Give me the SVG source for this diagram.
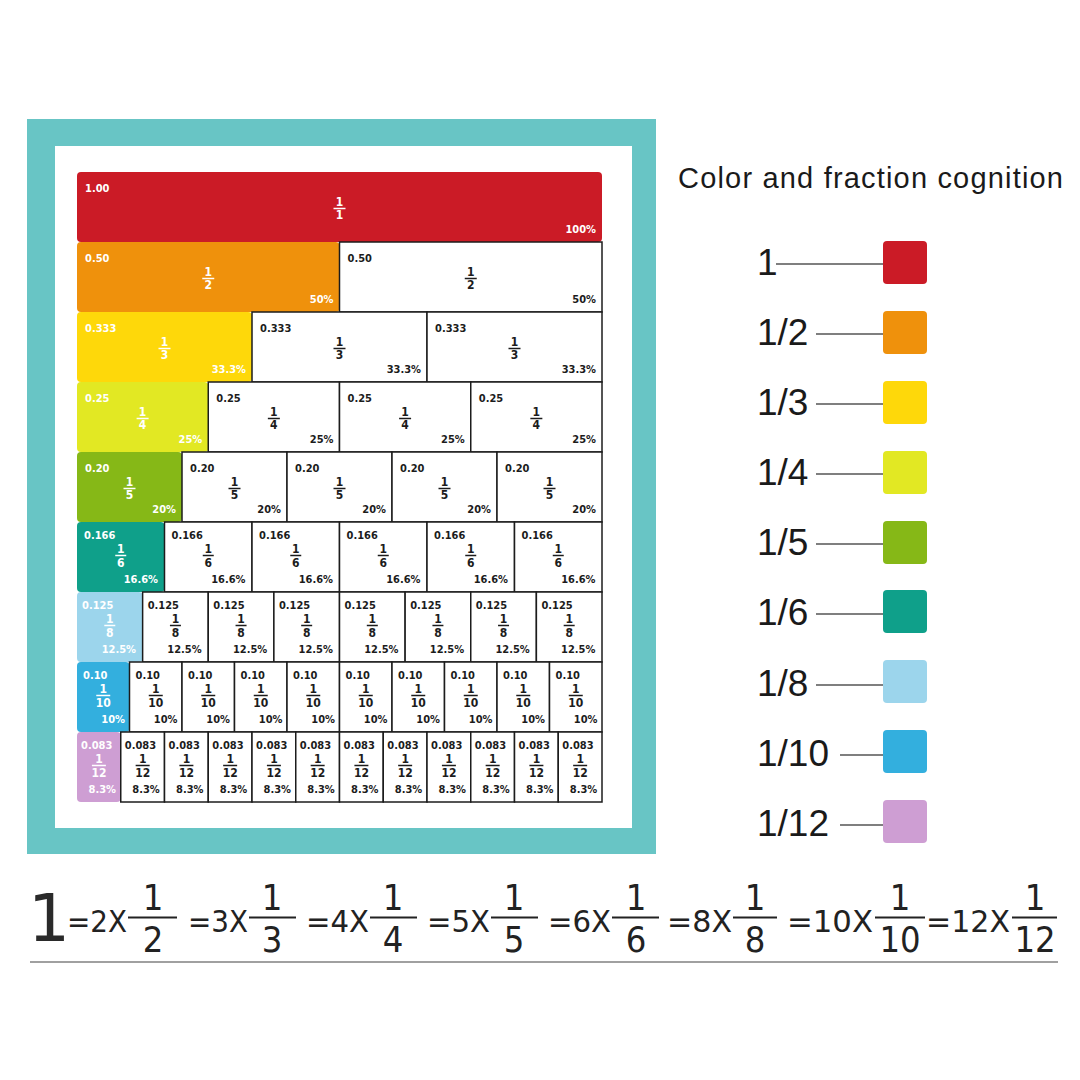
<svg xmlns="http://www.w3.org/2000/svg" width="1080" height="1080" viewBox="0 0 1080 1080">
<style>
.wc{fill:#fff;stroke:#1c1c1c;stroke-width:1.5}
.t{font-family:"DejaVu Sans Condensed","DejaVu Sans",sans-serif;font-weight:bold;font-size:11px;fill:#1c1c1c}
.n{text-anchor:middle;font-size:12px}
.p{text-anchor:end}
.w{fill:#fff}
.fb{stroke:#1c1c1c;stroke-width:1.5}
.fw{stroke:#fff;stroke-width:1.5}
.lg{font-family:"Liberation Sans",Arial,sans-serif;font-size:37px;fill:#1a1a1a}
.ll{stroke:#555;stroke-width:1.4}
.eq{font-family:"DejaVu Sans Condensed","DejaVu Sans",sans-serif;font-size:31px;fill:#222}
.eqf{font-family:"DejaVu Sans Condensed","DejaVu Sans",sans-serif;font-size:36px;fill:#222;text-anchor:middle}
.eb{stroke:#222;stroke-width:2}
</style>
<rect x="27" y="119" width="629" height="735" fill="#68C5C5"/>
<rect x="55" y="146" width="577" height="682" fill="#fff"/>

<g id="row-1">
<g transform="translate(77,172)"><rect width="525" height="70" rx="4" fill="#CB1B26"/><text class="t w" x="8" y="20">1.00</text><text class="t n w" x="262.5" y="34">1</text><path class="fw" d="M256.5 36.5h12"/><text class="t n w" x="262.5" y="47">1</text><text class="t p w" x="519" y="61">100%</text></g>
</g>

<g id="row-2">
<g transform="translate(77,242)"><rect width="262.5" height="70" rx="4" fill="#EF910C"/><text class="t w" x="8" y="20">0.50</text><text class="t n w" x="131.25" y="34">1</text><path class="fw" d="M125.25 36.5h12"/><text class="t n w" x="131.25" y="47">2</text><text class="t p w" x="256.5" y="61">50%</text></g>
<g transform="translate(339.5,242)"><rect class="wc" width="262.5" height="70"/><text class="t" x="8" y="20">0.50</text><text class="t n" x="131.25" y="34">1</text><path class="fb" d="M125.25 36.5h12"/><text class="t n" x="131.25" y="47">2</text><text class="t p" x="256.5" y="61">50%</text></g>
</g>

<g id="row-3">
<g transform="translate(77,312)"><rect width="175" height="70" rx="4" fill="#FED80A"/><text class="t w" x="8" y="20">0.333</text><text class="t n w" x="87.5" y="34">1</text><path class="fw" d="M81.5 36.5h12"/><text class="t n w" x="87.5" y="47">3</text><text class="t p w" x="169" y="61">33.3%</text></g>
<g transform="translate(252,312)"><rect class="wc" width="175" height="70"/><text class="t" x="8" y="20">0.333</text><text class="t n" x="87.5" y="34">1</text><path class="fb" d="M81.5 36.5h12"/><text class="t n" x="87.5" y="47">3</text><text class="t p" x="169" y="61">33.3%</text></g>
<g transform="translate(427,312)"><rect class="wc" width="175" height="70"/><text class="t" x="8" y="20">0.333</text><text class="t n" x="87.5" y="34">1</text><path class="fb" d="M81.5 36.5h12"/><text class="t n" x="87.5" y="47">3</text><text class="t p" x="169" y="61">33.3%</text></g>
</g>

<g id="row-4">
<g transform="translate(77,382)"><rect width="131.25" height="70" rx="4" fill="#E2E823"/><text class="t w" x="8" y="20">0.25</text><text class="t n w" x="65.6" y="34">1</text><path class="fw" d="M59.6 36.5h12"/><text class="t n w" x="65.6" y="47">4</text><text class="t p w" x="125.25" y="61">25%</text></g>
<g transform="translate(208.25,382)"><rect class="wc" width="131.25" height="70"/><text class="t" x="8" y="20">0.25</text><text class="t n" x="65.6" y="34">1</text><path class="fb" d="M59.6 36.5h12"/><text class="t n" x="65.6" y="47">4</text><text class="t p" x="125.25" y="61">25%</text></g>
<g transform="translate(339.5,382)"><rect class="wc" width="131.25" height="70"/><text class="t" x="8" y="20">0.25</text><text class="t n" x="65.6" y="34">1</text><path class="fb" d="M59.6 36.5h12"/><text class="t n" x="65.6" y="47">4</text><text class="t p" x="125.25" y="61">25%</text></g>
<g transform="translate(470.75,382)"><rect class="wc" width="131.25" height="70"/><text class="t" x="8" y="20">0.25</text><text class="t n" x="65.6" y="34">1</text><path class="fb" d="M59.6 36.5h12"/><text class="t n" x="65.6" y="47">4</text><text class="t p" x="125.25" y="61">25%</text></g>
</g>

<g id="row-5">
<g transform="translate(77,452)"><rect width="105" height="70" rx="4" fill="#86B817"/><text class="t w" x="8" y="20">0.20</text><text class="t n w" x="52.5" y="34">1</text><path class="fw" d="M46.5 36.5h12"/><text class="t n w" x="52.5" y="47">5</text><text class="t p w" x="99" y="61">20%</text></g>
<g transform="translate(182,452)"><rect class="wc" width="105" height="70"/><text class="t" x="8" y="20">0.20</text><text class="t n" x="52.5" y="34">1</text><path class="fb" d="M46.5 36.5h12"/><text class="t n" x="52.5" y="47">5</text><text class="t p" x="99" y="61">20%</text></g>
<g transform="translate(287,452)"><rect class="wc" width="105" height="70"/><text class="t" x="8" y="20">0.20</text><text class="t n" x="52.5" y="34">1</text><path class="fb" d="M46.5 36.5h12"/><text class="t n" x="52.5" y="47">5</text><text class="t p" x="99" y="61">20%</text></g>
<g transform="translate(392,452)"><rect class="wc" width="105" height="70"/><text class="t" x="8" y="20">0.20</text><text class="t n" x="52.5" y="34">1</text><path class="fb" d="M46.5 36.5h12"/><text class="t n" x="52.5" y="47">5</text><text class="t p" x="99" y="61">20%</text></g>
<g transform="translate(497,452)"><rect class="wc" width="105" height="70"/><text class="t" x="8" y="20">0.20</text><text class="t n" x="52.5" y="34">1</text><path class="fb" d="M46.5 36.5h12"/><text class="t n" x="52.5" y="47">5</text><text class="t p" x="99" y="61">20%</text></g>
</g>

<g id="row-6">
<g transform="translate(77,522)"><rect width="87.5" height="70" rx="4" fill="#0FA08A"/><text class="t w" x="7" y="17">0.166</text><text class="t n w" x="43.75" y="31">1</text><path class="fw" d="M38.25 33.5h11"/><text class="t n w" x="43.75" y="45">6</text><text class="t p w" x="81" y="61">16.6%</text></g>
<g transform="translate(164.5,522)"><rect class="wc" width="87.5" height="70"/><text class="t" x="7" y="17">0.166</text><text class="t n" x="43.75" y="31">1</text><path class="fb" d="M38.25 33.5h11"/><text class="t n" x="43.75" y="45">6</text><text class="t p" x="81" y="61">16.6%</text></g>
<g transform="translate(252,522)"><rect class="wc" width="87.5" height="70"/><text class="t" x="7" y="17">0.166</text><text class="t n" x="43.75" y="31">1</text><path class="fb" d="M38.25 33.5h11"/><text class="t n" x="43.75" y="45">6</text><text class="t p" x="81" y="61">16.6%</text></g>
<g transform="translate(339.5,522)"><rect class="wc" width="87.5" height="70"/><text class="t" x="7" y="17">0.166</text><text class="t n" x="43.75" y="31">1</text><path class="fb" d="M38.25 33.5h11"/><text class="t n" x="43.75" y="45">6</text><text class="t p" x="81" y="61">16.6%</text></g>
<g transform="translate(427,522)"><rect class="wc" width="87.5" height="70"/><text class="t" x="7" y="17">0.166</text><text class="t n" x="43.75" y="31">1</text><path class="fb" d="M38.25 33.5h11"/><text class="t n" x="43.75" y="45">6</text><text class="t p" x="81" y="61">16.6%</text></g>
<g transform="translate(514.5,522)"><rect class="wc" width="87.5" height="70"/><text class="t" x="7" y="17">0.166</text><text class="t n" x="43.75" y="31">1</text><path class="fb" d="M38.25 33.5h11"/><text class="t n" x="43.75" y="45">6</text><text class="t p" x="81" y="61">16.6%</text></g>
</g>

<g id="row-8ths">
<g transform="translate(77,592)"><rect width="65.625" height="70" rx="4" fill="#9CD5EC"/><text class="t w" x="5" y="17">0.125</text><text class="t n w" x="32.8" y="31">1</text><path class="fw" d="M27.3 33.5h11"/><text class="t n w" x="32.8" y="45">8</text><text class="t p w" x="59" y="61">12.5%</text></g>
<g transform="translate(142.625,592)"><rect class="wc" width="65.625" height="70"/><text class="t" x="5" y="17">0.125</text><text class="t n" x="32.8" y="31">1</text><path class="fb" d="M27.3 33.5h11"/><text class="t n" x="32.8" y="45">8</text><text class="t p" x="59" y="61">12.5%</text></g>
<g transform="translate(208.25,592)"><rect class="wc" width="65.625" height="70"/><text class="t" x="5" y="17">0.125</text><text class="t n" x="32.8" y="31">1</text><path class="fb" d="M27.3 33.5h11"/><text class="t n" x="32.8" y="45">8</text><text class="t p" x="59" y="61">12.5%</text></g>
<g transform="translate(273.875,592)"><rect class="wc" width="65.625" height="70"/><text class="t" x="5" y="17">0.125</text><text class="t n" x="32.8" y="31">1</text><path class="fb" d="M27.3 33.5h11"/><text class="t n" x="32.8" y="45">8</text><text class="t p" x="59" y="61">12.5%</text></g>
<g transform="translate(339.5,592)"><rect class="wc" width="65.625" height="70"/><text class="t" x="5" y="17">0.125</text><text class="t n" x="32.8" y="31">1</text><path class="fb" d="M27.3 33.5h11"/><text class="t n" x="32.8" y="45">8</text><text class="t p" x="59" y="61">12.5%</text></g>
<g transform="translate(405.125,592)"><rect class="wc" width="65.625" height="70"/><text class="t" x="5" y="17">0.125</text><text class="t n" x="32.8" y="31">1</text><path class="fb" d="M27.3 33.5h11"/><text class="t n" x="32.8" y="45">8</text><text class="t p" x="59" y="61">12.5%</text></g>
<g transform="translate(470.75,592)"><rect class="wc" width="65.625" height="70"/><text class="t" x="5" y="17">0.125</text><text class="t n" x="32.8" y="31">1</text><path class="fb" d="M27.3 33.5h11"/><text class="t n" x="32.8" y="45">8</text><text class="t p" x="59" y="61">12.5%</text></g>
<g transform="translate(536.375,592)"><rect class="wc" width="65.625" height="70"/><text class="t" x="5" y="17">0.125</text><text class="t n" x="32.8" y="31">1</text><path class="fb" d="M27.3 33.5h11"/><text class="t n" x="32.8" y="45">8</text><text class="t p" x="59" y="61">12.5%</text></g>
</g>

<g id="row-10ths">
<g transform="translate(77,662)"><rect width="52.5" height="70" rx="4" fill="#33AFDE"/><text class="t w" x="6" y="17">0.10</text><text class="t n w" x="26.25" y="31">1</text><path class="fw" d="M19.25 33.5h14"/><text class="t n w" x="26.25" y="45">10</text><text class="t p w" x="48" y="61">10%</text></g>
<g transform="translate(129.5,662)"><rect class="wc" width="52.5" height="70"/><text class="t" x="6" y="17">0.10</text><text class="t n" x="26.25" y="31">1</text><path class="fb" d="M19.25 33.5h14"/><text class="t n" x="26.25" y="45">10</text><text class="t p" x="48" y="61">10%</text></g>
<g transform="translate(182,662)"><rect class="wc" width="52.5" height="70"/><text class="t" x="6" y="17">0.10</text><text class="t n" x="26.25" y="31">1</text><path class="fb" d="M19.25 33.5h14"/><text class="t n" x="26.25" y="45">10</text><text class="t p" x="48" y="61">10%</text></g>
<g transform="translate(234.5,662)"><rect class="wc" width="52.5" height="70"/><text class="t" x="6" y="17">0.10</text><text class="t n" x="26.25" y="31">1</text><path class="fb" d="M19.25 33.5h14"/><text class="t n" x="26.25" y="45">10</text><text class="t p" x="48" y="61">10%</text></g>
<g transform="translate(287,662)"><rect class="wc" width="52.5" height="70"/><text class="t" x="6" y="17">0.10</text><text class="t n" x="26.25" y="31">1</text><path class="fb" d="M19.25 33.5h14"/><text class="t n" x="26.25" y="45">10</text><text class="t p" x="48" y="61">10%</text></g>
<g transform="translate(339.5,662)"><rect class="wc" width="52.5" height="70"/><text class="t" x="6" y="17">0.10</text><text class="t n" x="26.25" y="31">1</text><path class="fb" d="M19.25 33.5h14"/><text class="t n" x="26.25" y="45">10</text><text class="t p" x="48" y="61">10%</text></g>
<g transform="translate(392,662)"><rect class="wc" width="52.5" height="70"/><text class="t" x="6" y="17">0.10</text><text class="t n" x="26.25" y="31">1</text><path class="fb" d="M19.25 33.5h14"/><text class="t n" x="26.25" y="45">10</text><text class="t p" x="48" y="61">10%</text></g>
<g transform="translate(444.5,662)"><rect class="wc" width="52.5" height="70"/><text class="t" x="6" y="17">0.10</text><text class="t n" x="26.25" y="31">1</text><path class="fb" d="M19.25 33.5h14"/><text class="t n" x="26.25" y="45">10</text><text class="t p" x="48" y="61">10%</text></g>
<g transform="translate(497,662)"><rect class="wc" width="52.5" height="70"/><text class="t" x="6" y="17">0.10</text><text class="t n" x="26.25" y="31">1</text><path class="fb" d="M19.25 33.5h14"/><text class="t n" x="26.25" y="45">10</text><text class="t p" x="48" y="61">10%</text></g>
<g transform="translate(549.5,662)"><rect class="wc" width="52.5" height="70"/><text class="t" x="6" y="17">0.10</text><text class="t n" x="26.25" y="31">1</text><path class="fb" d="M19.25 33.5h14"/><text class="t n" x="26.25" y="45">10</text><text class="t p" x="48" y="61">10%</text></g>
</g>

<g id="row-12ths">
<g transform="translate(77,732)"><rect width="43.75" height="70" rx="4" fill="#CE9ED3"/><text class="t w" x="4" y="17">0.083</text><text class="t n w" x="21.9" y="31">1</text><path class="fw" d="M14.9 33.5h14"/><text class="t n w" x="21.9" y="45">12</text><text class="t p w" x="39" y="61">8.3%</text></g>
<g transform="translate(120.75,732)"><rect class="wc" width="43.75" height="70"/><text class="t" x="4" y="17">0.083</text><text class="t n" x="21.9" y="31">1</text><path class="fb" d="M14.9 33.5h14"/><text class="t n" x="21.9" y="45">12</text><text class="t p" x="39" y="61">8.3%</text></g>
<g transform="translate(164.5,732)"><rect class="wc" width="43.75" height="70"/><text class="t" x="4" y="17">0.083</text><text class="t n" x="21.9" y="31">1</text><path class="fb" d="M14.9 33.5h14"/><text class="t n" x="21.9" y="45">12</text><text class="t p" x="39" y="61">8.3%</text></g>
<g transform="translate(208.25,732)"><rect class="wc" width="43.75" height="70"/><text class="t" x="4" y="17">0.083</text><text class="t n" x="21.9" y="31">1</text><path class="fb" d="M14.9 33.5h14"/><text class="t n" x="21.9" y="45">12</text><text class="t p" x="39" y="61">8.3%</text></g>
<g transform="translate(252,732)"><rect class="wc" width="43.75" height="70"/><text class="t" x="4" y="17">0.083</text><text class="t n" x="21.9" y="31">1</text><path class="fb" d="M14.9 33.5h14"/><text class="t n" x="21.9" y="45">12</text><text class="t p" x="39" y="61">8.3%</text></g>
<g transform="translate(295.75,732)"><rect class="wc" width="43.75" height="70"/><text class="t" x="4" y="17">0.083</text><text class="t n" x="21.9" y="31">1</text><path class="fb" d="M14.9 33.5h14"/><text class="t n" x="21.9" y="45">12</text><text class="t p" x="39" y="61">8.3%</text></g>
<g transform="translate(339.5,732)"><rect class="wc" width="43.75" height="70"/><text class="t" x="4" y="17">0.083</text><text class="t n" x="21.9" y="31">1</text><path class="fb" d="M14.9 33.5h14"/><text class="t n" x="21.9" y="45">12</text><text class="t p" x="39" y="61">8.3%</text></g>
<g transform="translate(383.25,732)"><rect class="wc" width="43.75" height="70"/><text class="t" x="4" y="17">0.083</text><text class="t n" x="21.9" y="31">1</text><path class="fb" d="M14.9 33.5h14"/><text class="t n" x="21.9" y="45">12</text><text class="t p" x="39" y="61">8.3%</text></g>
<g transform="translate(427,732)"><rect class="wc" width="43.75" height="70"/><text class="t" x="4" y="17">0.083</text><text class="t n" x="21.9" y="31">1</text><path class="fb" d="M14.9 33.5h14"/><text class="t n" x="21.9" y="45">12</text><text class="t p" x="39" y="61">8.3%</text></g>
<g transform="translate(470.75,732)"><rect class="wc" width="43.75" height="70"/><text class="t" x="4" y="17">0.083</text><text class="t n" x="21.9" y="31">1</text><path class="fb" d="M14.9 33.5h14"/><text class="t n" x="21.9" y="45">12</text><text class="t p" x="39" y="61">8.3%</text></g>
<g transform="translate(514.5,732)"><rect class="wc" width="43.75" height="70"/><text class="t" x="4" y="17">0.083</text><text class="t n" x="21.9" y="31">1</text><path class="fb" d="M14.9 33.5h14"/><text class="t n" x="21.9" y="45">12</text><text class="t p" x="39" y="61">8.3%</text></g>
<g transform="translate(558.25,732)"><rect class="wc" width="43.75" height="70"/><text class="t" x="4" y="17">0.083</text><text class="t n" x="21.9" y="31">1</text><path class="fb" d="M14.9 33.5h14"/><text class="t n" x="21.9" y="45">12</text><text class="t p" x="39" y="61">8.3%</text></g>
</g>

<text x="678" y="188" font-family="'Liberation Sans',Arial,sans-serif" font-size="29" fill="#1a1a1a" textLength="385">Color and fraction cognition</text>

<g id="legend-connectors">
<path class="ll" d="M776 264H883"/>
<path class="ll" d="M816 334H883"/>
<path class="ll" d="M816 404H883"/>
<path class="ll" d="M816 474H883"/>
<path class="ll" d="M816 544H883"/>
<path class="ll" d="M816 614H883"/>
<path class="ll" d="M816 685H883"/>
<path class="ll" d="M840 755H883"/>
<path class="ll" d="M840 825H883"/>
</g>
<g id="legend-1"><text class="lg" x="757" y="275">1</text><rect x="883" y="241" width="44" height="43" rx="4" fill="#CB1B26"/></g>
<g id="legend-1-2"><text class="lg" x="757" y="345">1/2</text><rect x="883" y="311" width="44" height="43" rx="4" fill="#EF910C"/></g>
<g id="legend-1-3"><text class="lg" x="757" y="415">1/3</text><rect x="883" y="381" width="44" height="43" rx="4" fill="#FED80A"/></g>
<g id="legend-1-4"><text class="lg" x="757" y="485">1/4</text><rect x="883" y="451" width="44" height="43" rx="4" fill="#E2E823"/></g>
<g id="legend-1-5"><text class="lg" x="757" y="555">1/5</text><rect x="883" y="521" width="44" height="43" rx="4" fill="#86B817"/></g>
<g id="legend-1-6"><text class="lg" x="757" y="625">1/6</text><rect x="883" y="590" width="44" height="43" rx="4" fill="#0FA08A"/></g>
<g id="legend-1-8"><text class="lg" x="757" y="696">1/8</text><rect x="883" y="660" width="44" height="43" rx="4" fill="#9CD5EC"/></g>
<g id="legend-1-10"><text class="lg" x="757" y="766">1/10</text><rect x="883" y="730" width="44" height="43" rx="4" fill="#33AFDE"/></g>
<g id="legend-1-12"><text class="lg" x="757" y="836">1/12</text><rect x="883" y="800" width="44" height="43" rx="4" fill="#CE9ED3"/></g>

<g id="equation">
<text x="28" y="941" font-family="'DejaVu Sans',sans-serif" font-size="66" fill="#2a2a2a">1</text>
<text class="eq" x="67" y="932" textLength="60" lengthAdjust="spacingAndGlyphs">=2X</text>
<text class="eqf" x="153" y="910">1</text><path class="eb" d="M128 917.5H177"/><text class="eqf" x="153" y="952">2</text>
<text class="eq" x="188" y="932" textLength="60" lengthAdjust="spacingAndGlyphs">=3X</text>
<text class="eqf" x="272" y="910">1</text><path class="eb" d="M249 917.5H296"/><text class="eqf" x="272" y="952">3</text>
<text class="eq" x="306" y="932" textLength="63" lengthAdjust="spacingAndGlyphs">=4X</text>
<text class="eqf" x="393" y="910">1</text><path class="eb" d="M370 917.5H417"/><text class="eqf" x="393" y="952">4</text>
<text class="eq" x="427" y="932" textLength="63" lengthAdjust="spacingAndGlyphs">=5X</text>
<text class="eqf" x="514" y="910">1</text><path class="eb" d="M491 917.5H538"/><text class="eqf" x="514" y="952">5</text>
<text class="eq" x="548" y="932" textLength="63" lengthAdjust="spacingAndGlyphs">=6X</text>
<text class="eqf" x="636" y="910">1</text><path class="eb" d="M612 917.5H659"/><text class="eqf" x="636" y="952">6</text>
<text class="eq" x="667" y="932" textLength="65" lengthAdjust="spacingAndGlyphs">=8X</text>
<text class="eqf" x="755" y="910">1</text><path class="eb" d="M733 917.5H777"/><text class="eqf" x="755" y="952">8</text>
<text class="eq" x="787" y="932" textLength="86" lengthAdjust="spacingAndGlyphs">=10X</text>
<text class="eqf" x="900" y="910">1</text><path class="eb" d="M875 917.5H925"/><text class="eqf" x="900" y="952">10</text>
<text class="eq" x="926" y="932" textLength="84" lengthAdjust="spacingAndGlyphs">=12X</text>
<text class="eqf" x="1035" y="910">1</text><path class="eb" d="M1012 917.5H1057"/><text class="eqf" x="1035" y="952">12</text>
<path d="M30 962H1058" stroke="#808080" stroke-width="1.5"/>
</g>
</svg>
